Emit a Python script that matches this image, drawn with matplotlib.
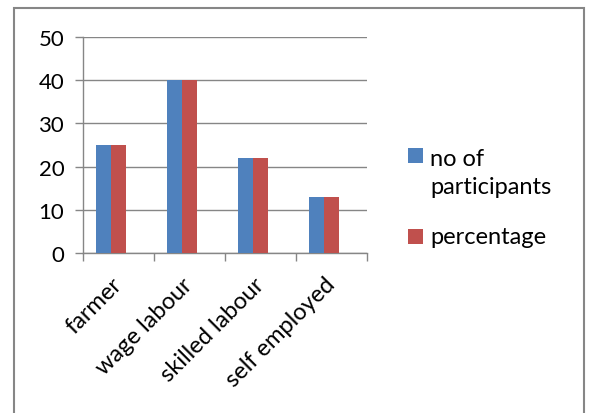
import matplotlib
matplotlib.use("Agg")
import matplotlib.pyplot as plt
from matplotlib.patches import Rectangle
import numpy as np

categories = ["farmer", "wage labour", "skilled labour", "self employed"]
participants = [25, 40, 22, 13]
percentage = [25, 40, 22, 13]
series_names = ["no of\nparticipants", "percentage"]
yticks = [0, 10, 20, 30, 40, 50]

BLUE = "#4F81BD"
RED = "#C0504D"
GRAY = "#868686"

plt.rcParams['font.family'] = ['Lato', 'DejaVu Sans']

W, H = 592, 414
fig = plt.figure(figsize=(W / 100, H / 100), dpi=100)
ax = fig.add_axes([83 / W, 1 - 254 / H, (367 - 83) / W, (254 - 38) / H])

x = np.arange(len(categories))
w = 0.215
ax.bar(x - 0.21, participants, width=w, color=BLUE, zorder=3)
ax.bar(x + 0.005, percentage, width=w, color=RED, zorder=3)

ax.set_xlim(-0.5, 3.5)
ax.set_ylim(0, 50)
ax.set_yticks(yticks)
ax.set_yticklabels([str(v) for v in yticks], fontsize=16, color="black")
ax.yaxis.grid(True, color=GRAY, linewidth=1.0, zorder=0)
ax.set_axisbelow(True)

ax.set_xticks(x)
ax.set_xticklabels(categories, fontsize=17, rotation=45, ha="right", va="center",
                   rotation_mode="anchor")
ax.tick_params(axis="x", which="major", length=0, pad=20)
ax.set_xticks(np.arange(-0.5, 4.0, 1.0), minor=True)
ax.tick_params(axis="x", which="minor", length=5.5, color=GRAY, width=1)
ax.tick_params(axis="y", length=5.5, color=GRAY, width=1, pad=8)

for s in ["top", "right"]:
    ax.spines[s].set_visible(False)
for s in ["left", "bottom"]:
    ax.spines[s].set_color(GRAY)
    ax.spines[s].set_linewidth(1)

# legend (drawn manually, square aligned with first text line as in Excel)
leg_colors = [BLUE, RED]
sq_tops = [149, 230]
baselines = [[166.5, 194.5], [244]]
for name, col, top, bls in zip(series_names, leg_colors, sq_tops, baselines):
    fig.patches.append(Rectangle((408 / W, 1 - (top + 15) / H), 15 / W, 15 / H,
                                 transform=fig.transFigure, facecolor=col,
                                 edgecolor="none"))
    for line, bl in zip(name.split("\n"), bls):
        fig.text(430 / W, 1 - bl / H, line, fontsize=17, va="baseline", ha="left")

fig.patches.append(Rectangle((14 / W, -0.05), (584 - 14) / W, 1 - 9 / H + 0.05,
                             transform=fig.transFigure, fill=False,
                             edgecolor=GRAY, linewidth=1.5))

fig.savefig("out.png", dpi=100)
